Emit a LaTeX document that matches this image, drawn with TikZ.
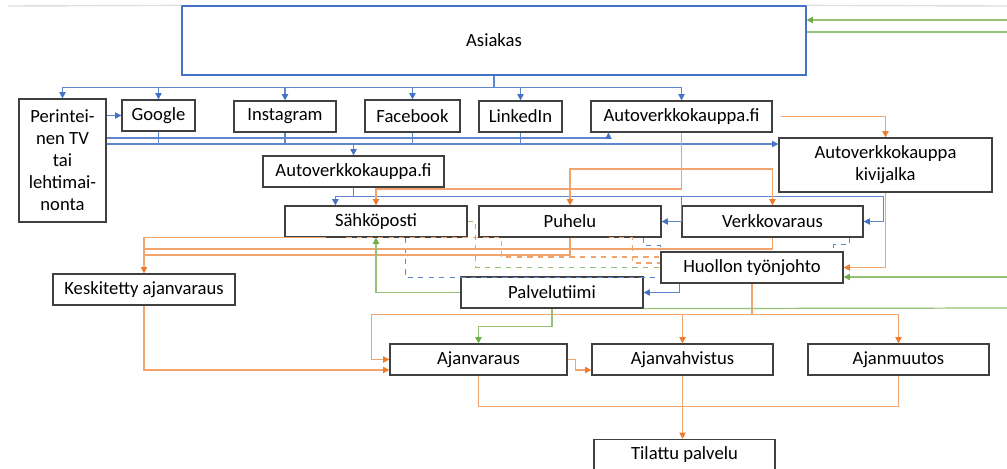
\documentclass[tikz,border=0pt]{standalone}
\usepackage{fontspec}
\setmainfont{Carlito}
\usetikzlibrary{arrows.meta}
\definecolor{blueC}{HTML}{4472C4}
\definecolor{orC}{HTML}{ED7D31}
\definecolor{grC}{HTML}{70AD47}
\tikzset{box/.style = {draw=black!75, line width=0.7pt, fill=white, inner sep=0pt,
                       minimum width=3.62cm, minimum height=0.62cm,
                       font=\fontsize{10.6}{12.5}\selectfont}}
\tikzset{bl/.style = {draw=blueC!85!white, line width=0.7pt,
                      >={Triangle[length=3.6pt,width=3.6pt,color=blueC]}},
         og/.style = {draw=orC!70!white, line width=0.7pt,
                      >={Triangle[length=3.6pt,width=3.6pt,color=orC]}},
         gr/.style = {draw=grC!75!white, line width=0.7pt,
                      >={Triangle[length=3.6pt,width=3.6pt,color=grC]}}}

\begin{document}
\begin{tikzpicture}[x=0.02cm, y=-0.02cm]
        \useasboundingbox (0,0) rectangle (1007,468);
        % boxes
        \node[box, draw=blueC, minimum width=12.48cm, minimum height=1.38cm] (asiakas) at (494,40.5) {Asiakas};
        \node[box, minimum width=1.74cm, minimum height=2.46cm, align=center] (perint) at (62.5,160.5)
            {Perintei-\\nen TV\\tai\\lehtimai-\\nonta};
        \node[box, minimum width=1.46cm] (google) at (158.5,115.5) {Google};
        \node[box, minimum width=2.04cm] (insta) at (285,116.5) {Instagram};
        \node[box, minimum width=1.9cm, minimum height=0.64cm] (fb) at (412.5,116) {Facebook};
        \node[box, minimum width=1.66cm] (linked) at (520.5,116.5) {LinkedIn};
        \node[box] (avk) at (681.5,116.5) {Autoverkkokauppa.fi};
        \node[box] (avkmid) at (353.5,171.5) {Autoverkkokauppa.fi};
        \node[box, minimum width=4.26cm, minimum height=1.08cm, align=center] (kivi) at (885.5,165)
            {Autoverkkokauppa\\kivijalka};
        \node[box, minimum width=3.64cm] (sahko) at (376,221.5) {Sähköposti};
        \node[box, minimum width=3.64cm] (puhelu) at (570,221.5) {Puhelu};
        \node[box] (verkko) at (772.5,221.5) {Verkkovaraus};
        \node[box, minimum width=3.64cm] (huolto) at (752,267.5) {Huollon työnjohto};
        \node[box, minimum width=3.64cm] (keski) at (144,289.5) {Keskitetty ajanvaraus};
        \node[box, minimum width=3.64cm] (palvelu) at (552,292.5) {Palvelutiimi};
        \node[box, minimum width=3.54cm] (ajanv) at (478.5,359.5) {Ajanvaraus};
        \node[box] (vahv) at (682.5,359.5) {Ajanvahvistus};
        \node[box] (muutos) at (898.5,359.5) {Ajanmuutos};
        \node[box] (tilattu) at (684.5,455) {Tilattu palvelu};
        \coordinate (edgeA) at (1007,20);
        \coordinate (edgeB) at (1007,32);
        \coordinate (edgeC) at (1007,277);
        \coordinate (edgeD) at (1007,308);
        \draw[gray!25, line width=0.8pt] (8,6) -- (asiakas.north west);
        \draw[gray!25, line width=0.8pt] (asiakas.north east) -- (1007,6);

        % blue
        \draw[bl] (asiakas.south) -- ++(0,12) coordinate (busA);
        \foreach \n in {perint,google,insta,fb,linked,avk}
            \draw[bl,->] (busA) -| (\n.north);
        \draw[bl,->] (perint.east |- google) -- (google.west);
        \draw[bl,->] (perint.east |- 0,138) -| ([xshift=0.36cm]avk.south west);
        \draw[bl,->] (perint.east |- 0,144) -- (kivi.west |- 0,144);
        \foreach \n in {google,insta,fb,linked}
            \draw[bl] (\n.south) -- (\n.south |- 0,144);
        \draw[bl,->] (avkmid.north |- 0,144) -- (avkmid.north);
        \draw[bl] (avkmid.south) -- ++(0,9) coordinate (busB);
        \draw[bl,->] (busB) -| ([xshift=1.02cm]sahko.north west);
        \draw[bl,->] (busB) -| ([xshift=0.4cm]puhelu.east) -- (puhelu.east);
        \draw[bl,->] (busB) -| ([xshift=0.4cm]verkko.east) -- (verkko.east);
        \draw[bl,->] ([xshift=0.38cm]huolto.south west) |- (palvelu.east);
        \draw[bl,dashed] ([xshift=2.42cm]sahko.south west) |- ([yshift=0.12cm]huolto.south west);
        \draw[bl,dashed] ([xshift=-0.36cm]puhelu.south east) -- ++(0,8) -| (huolto.north west);
        \draw[bl,dashed] ([xshift=-0.28cm]verkko.south east) -- ++(0,7) -| ([xshift=-0.2cm]huolto.north east);

        % orange
        \draw[og,->] ([xshift=0.16cm]avk.east) -| (kivi.north);
        \draw[og,->] (avk.south) -- (avk.south |- 0,189) -| (sahko.north);
        \draw[og,->] (avk.south |- 0,169) -| (puhelu.north);
        \draw[og,->] (avk.south |- 0,169) -| (verkko.north);
        \draw[og,->] (kivi.south) |- (huolto.east);
        \draw[og,->] ([xshift=0.84cm]sahko.south west) -| (keski.north);
        \draw[og] (verkko.south) |- (keski.north |- 0,249);
        \draw[og] (puhelu.south) |- (keski.north |- 0,255);
        \draw[og,dashed] ([xshift=1.24cm]sahko.south west) -- ++(155,0) |- ([yshift=0.21cm]huolto.west);
        \draw[og,dashed] ([xshift=-1.06cm]puhelu.south east) -- ++(24,0) |- ([yshift=0.09cm]huolto.west);
        \draw[og] (huolto.south) -- ++(0,31) coordinate (busC);
        \draw[og,->] (busC) -| (vahv.north);
        \draw[og,->] (busC) -| (muutos.north);
        \draw[og,->] (busC) -| ([xshift=-0.36cm]ajanv.west) -- (ajanv.west);
        \draw[og,->] (keski.south) |- ([yshift=-0.21cm]ajanv.west);
        \draw[og,->] (ajanv.east) -- ++(8,0) |- ([yshift=-0.21cm]vahv.west);
        \draw[og] (ajanv.south) -- ++(0,31) -| (muutos.south);
        \draw[og,->] (vahv.south) -- (vahv.south |- tilattu.north);

        % green
        \draw[gr,->] (edgeA) -- (asiakas.east |- edgeA);
        \draw[gr] (asiakas.east |- edgeB) -- (edgeB);
        \draw[gr,->] (edgeC) -- (huolto.east |- edgeC);
        \draw[gr] (palvelu.south east) -- (edgeD);
        \draw[gr,->] (palvelu.south) -- ++(0,18) -| (ajanv.north);
        \draw[gr,->] (palvelu.west) -| (sahko.south);
        \draw[gr,dashed] (sahko.east) -- ++(8,0) |- (huolto.west);
    \end{tikzpicture}
\end{document}
